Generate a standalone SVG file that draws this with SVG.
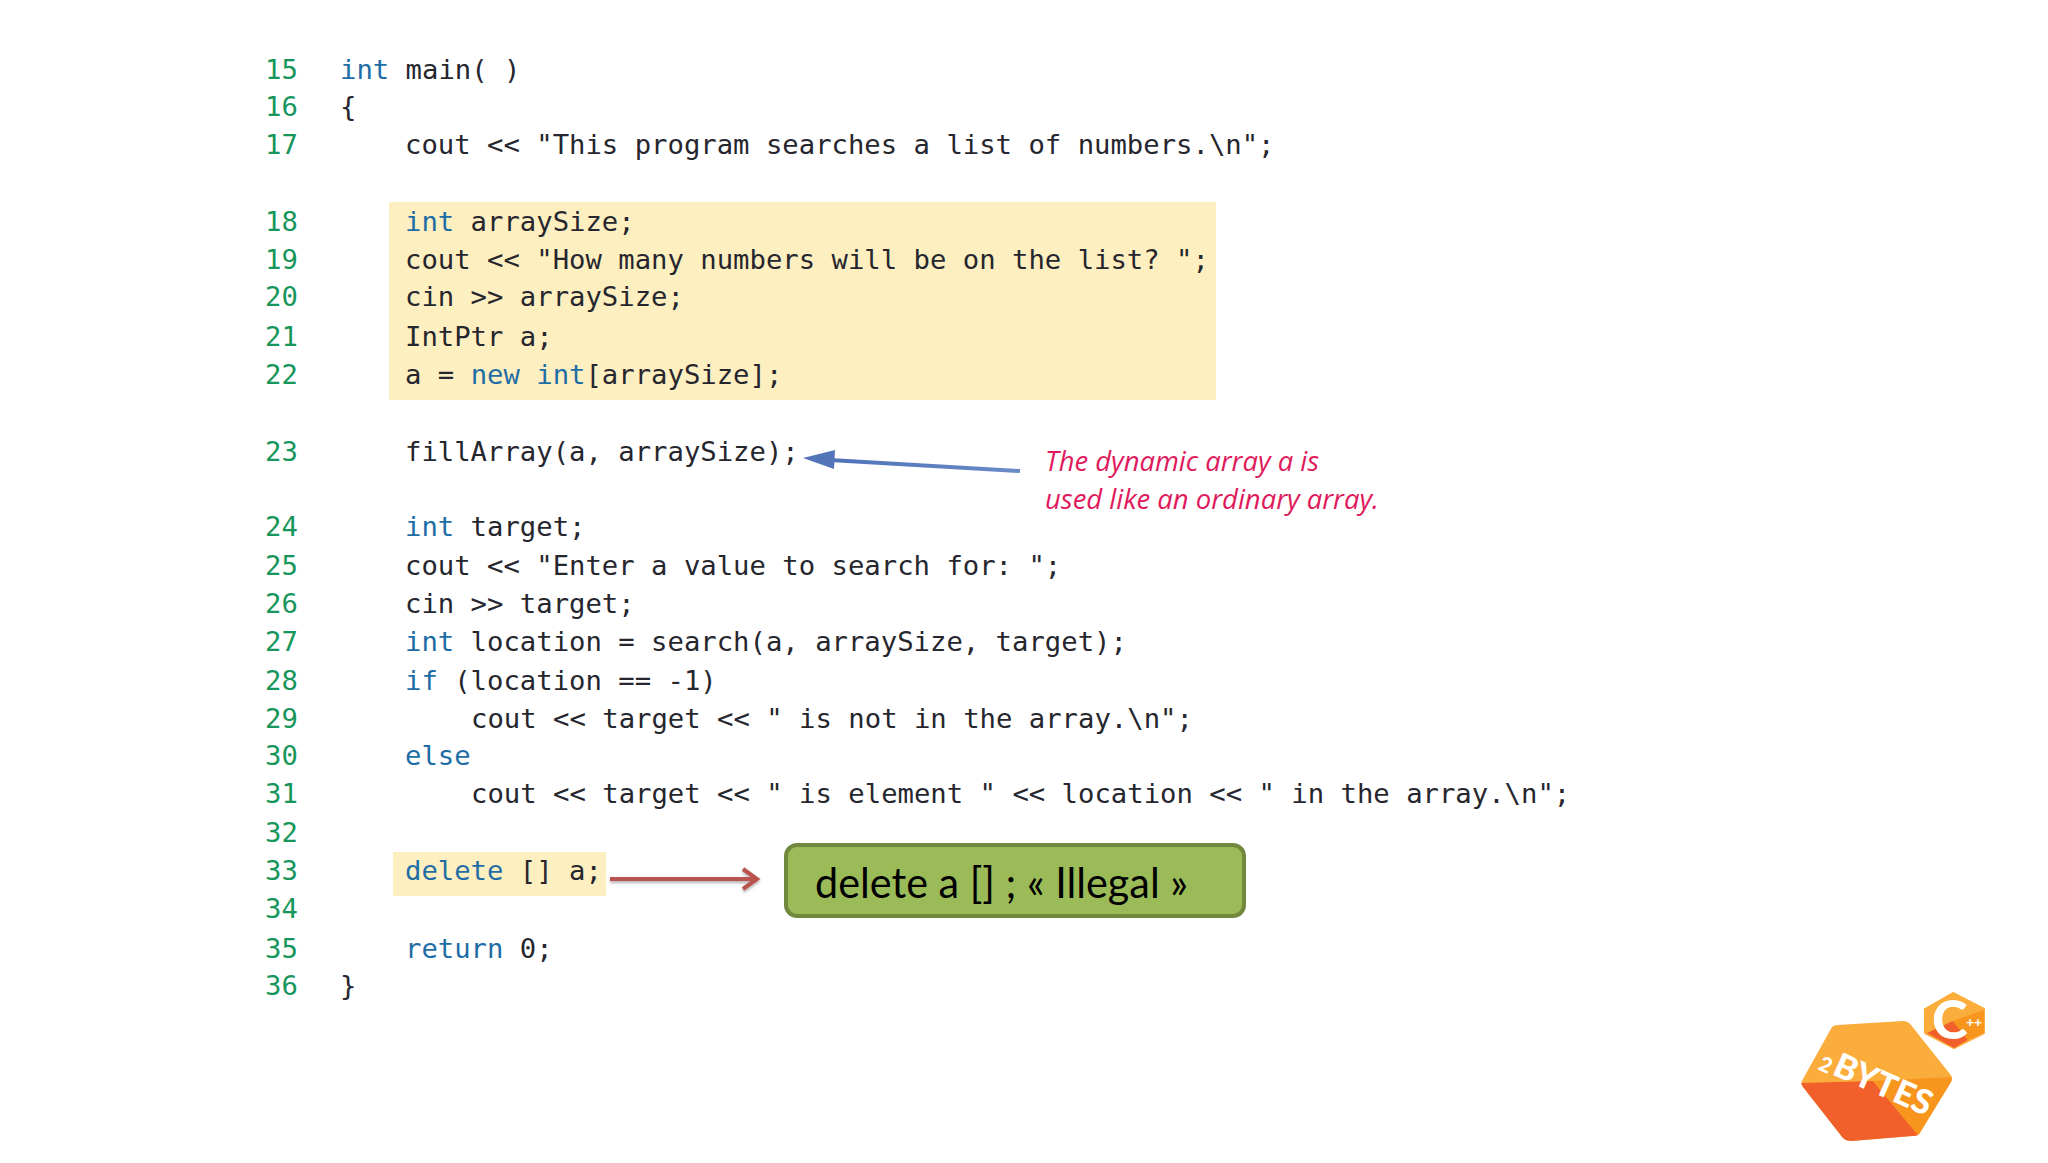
<svg xmlns="http://www.w3.org/2000/svg" width="2048" height="1163" viewBox="0 0 2048 1163">
<style>
.c{font-family:"DejaVu Sans Mono","Liberation Mono",monospace;font-size:27.25px;fill:#26262e;white-space:pre}
.n{fill:#17965c}
.k{fill:#1f6da6}
.note{font-family:"Open Sans","Liberation Sans",sans-serif;font-style:italic;font-size:27px;fill:#df1a5c}
.logo{font-family:"Lato","Liberation Sans",sans-serif;font-weight:900;fill:#fff}
</style>
<defs>
<filter id="sh" x="-10%" y="-60%" width="120%" height="220%"><feDropShadow dx="0" dy="2" stdDeviation="1.5" flood-color="#000" flood-opacity=".3"/></filter>
<linearGradient id="bl" gradientUnits="userSpaceOnUse" x1="835" y1="460" x2="1020" y2="472"><stop offset="0" stop-color="#4f74b8"/><stop offset="1" stop-color="#6a8ac8"/></linearGradient>
</defs>
<rect width="2048" height="1163" fill="#fff"/>
<g id="highlights">
<rect x="389" y="202" width="827" height="198" fill="#feefc0"/>
<rect x="393" y="852" width="213" height="44" fill="#feefc0"/>
</g>
<g id="code">
<text class="c n" x="265" y="79">15</text><text class="c" x="340" y="79"><tspan class="k">int</tspan> main( )</text>
<text class="c n" x="265" y="116">16</text><text class="c" x="340" y="116">{</text>
<text class="c n" x="265" y="154">17</text><text class="c" x="405" y="154">cout &lt;&lt; "This program searches a list of numbers.\n";</text>
<text class="c n" x="265" y="231">18</text><text class="c" x="405" y="231"><tspan class="k">int</tspan> arraySize;</text>
<text class="c n" x="265" y="269">19</text><text class="c" x="405" y="269">cout &lt;&lt; "How many numbers will be on the list? ";</text>
<text class="c n" x="265" y="306">20</text><text class="c" x="405" y="306">cin &gt;&gt; arraySize;</text>
<text class="c n" x="265" y="346">21</text><text class="c" x="405" y="346">IntPtr a;</text>
<text class="c n" x="265" y="384">22</text><text class="c" x="405" y="384">a = <tspan class="k">new int</tspan>[arraySize];</text>
<text class="c n" x="265" y="461">23</text><text class="c" x="405" y="461">fillArray(a, arraySize);</text>
<text class="c n" x="265" y="536">24</text><text class="c" x="405" y="536"><tspan class="k">int</tspan> target;</text>
<text class="c n" x="265" y="575">25</text><text class="c" x="405" y="575">cout &lt;&lt; "Enter a value to search for: ";</text>
<text class="c n" x="265" y="613">26</text><text class="c" x="405" y="613">cin &gt;&gt; target;</text>
<text class="c n" x="265" y="651">27</text><text class="c" x="405" y="651"><tspan class="k">int</tspan> location = search(a, arraySize, target);</text>
<text class="c n" x="265" y="690">28</text><text class="c" x="405" y="690"><tspan class="k">if</tspan> (location == -1)</text>
<text class="c n" x="265" y="728">29</text><text class="c" x="471" y="728">cout &lt;&lt; target &lt;&lt; " is not in the array.\n";</text>
<text class="c n" x="265" y="765">30</text><text class="c" x="405" y="765"><tspan class="k">else</tspan></text>
<text class="c n" x="265" y="803">31</text><text class="c" x="471" y="803">cout &lt;&lt; target &lt;&lt; " is element " &lt;&lt; location &lt;&lt; " in the array.\n";</text>
<text class="c n" x="265" y="842">32</text>
<text class="c n" x="265" y="880">33</text><text class="c" x="405" y="880"><tspan class="k">delete</tspan> [] a;</text>
<text class="c n" x="265" y="918">34</text>
<text class="c n" x="265" y="958">35</text><text class="c" x="405" y="958"><tspan class="k">return</tspan> 0;</text>
<text class="c n" x="265" y="995">36</text><text class="c" x="340" y="995">}</text>
</g>
<g id="connectors">
<path d="M1020 471 L830 460" fill="none" stroke="url(#bl)" stroke-width="4"/>
<path d="M803 458 L835 450 L834 469 Z" fill="#5274b8"/>
<g filter="url(#sh)">
<path d="M610 879 H757" fill="none" stroke="#b8524e" stroke-width="4"/>
<path d="M743 869 L757 879 L743 889" fill="none" stroke="#b8524e" stroke-width="4"/>
</g>
</g>
<g id="note">
<text class="note" x="1045" y="471" textLength="274" lengthAdjust="spacingAndGlyphs">The dynamic array a is</text>
<text class="note" x="1045" y="509" textLength="334" lengthAdjust="spacingAndGlyphs">used like an ordinary array.</text>
</g>
<g id="illegal-box">
<rect x="786" y="845" width="458" height="71" rx="11" fill="#9bbb59" stroke="#71893f" stroke-width="4"/>
<text x="815" y="898" font-family="Lato,'Liberation Sans',sans-serif" font-size="42" fill="#000" textLength="373" lengthAdjust="spacingAndGlyphs">delete a [] ; « Illegal »</text>
</g>
<g id="logo-2bytes">
<path d="M1832 1027 Q1834 1025 1838 1025 L1903 1021 Q1908 1021 1911 1025 L1950 1074 Q1953 1078 1951 1082 L1921 1131 Q1918 1136 1912 1136 L1851 1141 Q1846 1141 1843 1138 L1803 1087 Q1800 1083 1803 1079 Z" fill="#fbad3c"/>
<path d="M1801 1083 L1873 1081 L1918 1135 Q1917 1136 1912 1136 L1851 1141 Q1846 1141 1843 1138 L1803 1087 Z" fill="#f15f2a"/>
<path d="M1873 1081 L1952 1077 Q1952 1080 1951 1082 L1921 1131 Q1919 1135 1918 1135 Z" fill="#f8951d"/>
<text class="logo" font-size="21" transform="translate(1817 1069) rotate(25)">2</text>
<text class="logo" font-size="34" transform="translate(1831 1074) rotate(24)" textLength="104" lengthAdjust="spacingAndGlyphs">BYTES</text>
</g>
<g id="logo-cpp">
<path d="M1953 993 L1984 1009 L1984 1033 L1954 1048 L1925 1033 L1925 1009 Z" fill="#fbad3c" stroke="#fbad3c" stroke-width="2" stroke-linejoin="round"/>
<path d="M1927 1033 L1953 1021 L1968 1040 L1954 1048 Z" fill="#f15f2a"/>
<path d="M1953 1021 L1984 1010 L1984 1033 L1968 1040 Z" fill="#f8951d"/>
<text class="logo" font-size="54" x="1932" y="1039">C</text>
<text class="logo" font-size="14" x="1966" y="1027">++</text>
</g>
</svg>
